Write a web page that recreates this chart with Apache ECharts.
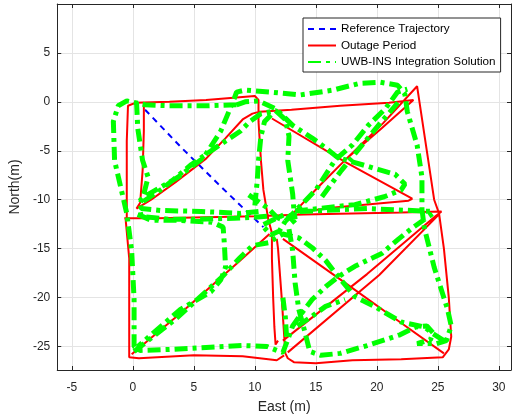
<!DOCTYPE html>
<html><head><meta charset="utf-8">
<script src="https://cdn.jsdelivr.net/npm/echarts@6/dist/echarts.min.js"></script>
<style>html,body{margin:0;padding:0;background:#fff}#c{width:512px;height:419px}</style>
</head><body><div id="c"></div>
<script>
// ---- tick labels ----
const xTicks = [-5, 0, 5, 10, 15, 20, 25, 30];
const yTicks = [-25, -20, -15, -10, -5, 0, 5];
const seriesNames = ['Reference Trajectory', 'Outage Period', 'UWB-INS Integration Solution'];

// ---- Reference trajectory (visible part) ----
const blueRef = [[1.0,-0.8],[4,-4.7],[7,-8.4],[9,-10.8],[10.7,-12.8]];

// ---- Outage period strokes (East, North) ----
const r1 = [[-0.5,-11.8],[-0.5,-8],[-0.5,-4],[-0.4,-0.4],[0.2,-0.1],[3,0.0],[6,0.2],[9,0.5],[10,0.6],[10.3,0.2],[10.3,-2],[10.5,-6],[10.7,-9],[11.1,-12],[11.4,-13.4],[11.4,-16],[11.5,-20],[11.6,-23],[11.7,-24.8],[11.9,-24.4]];
const r2 = [[0.9,-0.2],[0.9,-3],[0.8,-7],[0.6,-10.3],[0.3,-10.9],[1.5,-10.0],[3.5,-8.2],[6,-5.8],[7.6,-3.7],[9,-1.8],[9.8,-1.2],[10.4,-1.0],[13,-0.8],[17,-0.4],[21,-0.1],[23,0.2],[20.4,-2.7],[17.6,-5.7],[20.5,-2.2],[23.3,1.6],[24.1,-5],[24.7,-10],[25.1,-11.4],[25.5,-15],[25.9,-20],[26.1,-24],[25.9,-25.3],[25.4,-26.1],[22,-26.3],[18,-26.4],[15,-26.7],[13.2,-26.6],[12.7,-26.2],[12.5,-25.7],[12.2,-20],[11.9,-15],[11.8,-14]];
const r3 = [[-0.7,-11.9],[2,-11.9],[6,-11.8],[10,-11.7],[14,-11.5],[18,-11.4],[22,-11.3],[25.3,-11.2],[24.8,-11.7],[19.2,-17.6],[12.3,-24.4]];
const r4 = [[25.1,-11.5],[20.2,-17.7],[12.7,-25.6]];
const r5 = [[-0.6,-11.9],[-0.3,-16],[-0.3,-21],[-0.3,-26.1],[0.5,-26.2],[5,-25.9],[9,-26.0],[11.8,-26.4],[12.4,-25.9]];
const r6 = [[-0.1,-25.8],[4,-21.5],[8.8,-16.2],[11.2,-13.5]];
const r7 = [[12.3,-14],[17.4,-18.5],[22,-22.6],[25.5,-25.7]];
const r8 = [[11.4,-1.7],[17.5,-6.2],[22.9,-9.9],[22.6,-10.1],[16.5,-10.8],[13.5,-11.3]];
const r9 = [[17.6,-5.7],[15.2,-8.7],[12.9,-11.7]];

// ---- UWB-INS integration solution strokes (East, North) ----
const g1 = [[8.5,-0.3],[6,-0.4],[3,-0.4],[1,-0.3],[-0.5,0.1],[-1.2,-0.4],[-1.6,-2],[-1.5,-6],[-1.0,-8.7],[-0.5,-11.4],[-0.1,-15.2],[0.1,-20.2],[0.1,-25.0],[0.6,-25.4],[3,-25.3],[6,-25.1],[9,-24.9],[11,-25.0],[11.8,-25.4],[12.3,-25.6],[12.7,-24.3],[13.1,-22.9],[13.9,-21.5],[14.7,-20.2],[15.8,-18.9],[16.8,-17.9],[18.2,-16.8],[20.4,-15.5],[21.8,-14],[23,-12.8],[24.6,-11.4]];
const g2 = [[12.8,-13],[13.1,-15.2],[13.3,-18.5],[13.6,-21.2],[14.1,-23.5],[14.5,-25.5],[15.4,-25.9],[17,-25.7],[19.2,-24.9],[21.9,-23.8],[23.2,-23.0],[24.1,-22.9],[24.6,-23.6],[24.4,-24.3],[23.3,-24.7],[24.9,-24.7],[25.7,-24.4],[26.1,-22.9],[25.8,-21.2],[24.7,-16.9],[23.9,-12.9],[23.7,-11],[23.7,-7.7],[23.3,-4.4],[22.5,-1],[22.3,0.8],[21.7,1.7],[20.3,2.0],[18.6,1.9],[16.4,1.2],[13.7,0.7],[11.3,1.0],[9.2,1.2],[8.5,1.0],[8.3,0.3],[7.8,-1.2],[7.2,-3.0],[5.8,-5.7],[3.7,-7.7],[0.9,-9.7],[0.5,-10.2],[0.7,-10.9],[2.3,-11.1],[5.6,-11.2],[8.8,-11.4],[10.3,-11.2]];
const g3 = [[0.3,0],[0.4,-2.7],[0.8,-6],[1.25,-7.7],[0.9,-9.4],[0.6,-10.4],[2.5,-8.8],[4.8,-6.4],[7,-4.5],[8.8,-3.0],[9.6,-2.0],[10.5,-1.2],[11.7,-0.9],[12.5,-1.8],[12.8,-3.5],[12.7,-6],[13.1,-9.4],[13.2,-11],[13.3,-12]];
const g4 = [[10.0,-10.6],[10.2,-8],[10.3,-6],[10.5,-3.5],[10.8,-2],[11.6,-1.0]];
const g5 = [[8.5,-0.3],[9.2,0],[10.3,0.1],[11.7,-0.7],[13.1,-2.4],[14.7,-3.7],[15.8,-4.7],[16.8,-5.7],[18.2,-6.2],[20.1,-6.9],[21.5,-7.4],[22.3,-8.4],[22,-9],[20.6,-9.7],[18.2,-10.5],[16.6,-10.7],[14.5,-11],[13,-11.2]];
const g6 = [[11.0,-11.7],[8.3,-11.9],[5,-12.0],[2.9,-12.0],[0.7,-11.7],[0.5,-10.8]];
const g7 = [[0.4,-11.5],[1.5,-12.1],[3.7,-12.1],[6.5,-12.3],[7.4,-12.8],[7.5,-14.5],[7.6,-16.9],[7.2,-18.2],[6.4,-19.4],[3.9,-21.2],[1.5,-23.8],[0.4,-25.0]];
const g8 = [[0.1,-25.5],[3.5,-22.2],[7.3,-17.9],[8.8,-15.9],[9.8,-14.7],[11.1,-14.4],[12.3,-13.5],[13.6,-13.9],[14.7,-14.9],[15.8,-16.2],[16.6,-17.5],[18.2,-19.9],[19.8,-20.9],[22,-22.5],[23.9,-23],[24.6,-23.7],[25.5,-24.4]];
const g9 = [[12.5,-12.2],[15,-9],[16.6,-5.9],[18,-4.4],[19.3,-2.4],[20.7,-0.7],[21.7,1],[22.5,1.3]];
const g10 = [[15.5,-9.7],[17.1,-7],[18.8,-4.4],[20.4,-2],[22,0.3]];
const g11 = [[13.7,-11.2],[19.2,-10.9],[24.6,-11.2]];
const g12 = [[13.5,-22.9],[14.7,-21.9],[15.8,-20.9],[17.4,-20.2]];
const g13 = [[9.5,-9.5],[10.3,-10.2],[11.1,-10.9],[11.8,-11.8],[12.5,-12.2],[12.0,-13.2],[11.3,-13.6],[10.6,-12.6],[11.6,-12.0],[12.6,-11.4],[13.3,-12.4]];
const g14 = [[12.3,-20],[12.5,-22],[12.6,-24]];

const redStrokes = [r1, r2, r3, r4, r5, r6, r7, r8, r9];
const greenStrokes = [g1, g2, g3, g4, g5, g6, g7, g8, g9, g10, g11, g12, g13, g14];

function joinStrokes(strokes) {
  const out = [];
  strokes.forEach((s, i) => { if (i) out.push(['-', '-']); s.forEach(p => out.push(p)); });
  return out;
}

const chart = echarts.init(document.getElementById('c'), null, {renderer: 'canvas'});
const axisColor = '#262626';
const font = 'Liberation Sans, Arial, sans-serif';
const xMin = -6.2, xMax = 31, yMin = -27.4, yMax = 10;

chart.setOption({
  animation: false,
  backgroundColor: '#fff',
  grid: {left: 55, right: 1, top: 4, bottom: 41, containLabel: false},
  legend: {
    orient: 'vertical', left: 303, top: 18,
    padding: [5, 5, 4, 4], itemGap: 4.5, itemWidth: 28, itemHeight: 12,
    borderColor: axisColor, borderWidth: 1, backgroundColor: '#fff',
    itemStyle: {opacity: 0},
    textStyle: {fontFamily: font, fontSize: 11.7, color: '#000'},
    data: seriesNames
  },
  xAxis: [{
    type: 'value', min: xMin, max: xMax, position: 'bottom',
    name: 'East (m)', nameLocation: 'middle', nameGap: 30,
    nameTextStyle: {fontFamily: font, fontSize: 14, color: axisColor},
    axisLine: {show: true, onZero: false, lineStyle: {color: axisColor, width: 1}},
    axisTick: {show: true, inside: true, length: 4, customValues: xTicks, lineStyle: {color: axisColor}},
    axisLabel: {customValues: xTicks, fontFamily: font, fontSize: 12, color: axisColor, margin: 12},
    splitLine: {show: true, lineStyle: {color: '#e4e4e4', width: 1}}
  }, {
    type: 'value', min: xMin, max: xMax, position: 'top',
    axisLine: {show: true, onZero: false, lineStyle: {color: axisColor, width: 1}},
    axisTick: {show: true, inside: true, length: 4, customValues: xTicks, lineStyle: {color: axisColor}},
    axisLabel: {show: false}, splitLine: {show: false}
  }],
  yAxis: [{
    type: 'value', min: yMin, max: yMax, position: 'left',
    name: 'North(m)', nameLocation: 'middle', nameGap: 28,
    nameTextStyle: {fontFamily: font, fontSize: 14, color: axisColor},
    axisLine: {show: true, onZero: false, lineStyle: {color: axisColor, width: 1}},
    axisTick: {show: true, inside: true, length: 4, customValues: yTicks, lineStyle: {color: axisColor}},
    axisLabel: {customValues: yTicks, fontFamily: font, fontSize: 12, color: axisColor, margin: 7},
    splitLine: {show: true, lineStyle: {color: '#e4e4e4', width: 1}}
  }, {
    type: 'value', min: yMin, max: yMax, position: 'right',
    axisLine: {show: true, onZero: false, lineStyle: {color: axisColor, width: 1}},
    axisTick: {show: true, inside: true, length: 4, customValues: yTicks, lineStyle: {color: axisColor}},
    axisLabel: {show: false}, splitLine: {show: false}
  }],
  series: [{
    name: seriesNames[0], type: 'line', symbol: 'none', data: blueRef, connectNulls: false,
    lineStyle: {color: '#0000ff', width: 2, type: [6, 5]}, itemStyle: {color: '#0000ff'}, z: 2
  }, {
    name: seriesNames[1], type: 'line', symbol: 'none', data: joinStrokes(redStrokes), connectNulls: false,
    lineStyle: {color: '#ff0000', width: 2}, itemStyle: {color: '#ff0000'}, z: 3
  }, {
    name: seriesNames[2], type: 'line', symbol: 'none', data: joinStrokes(greenStrokes), connectNulls: false,
    lineStyle: {color: '#00ff00', width: 5, type: [13, 5, 4, 5], cap: 'butt'}, itemStyle: {color: '#00ff00'}, z: 4
  }]
});
</script></body></html>
